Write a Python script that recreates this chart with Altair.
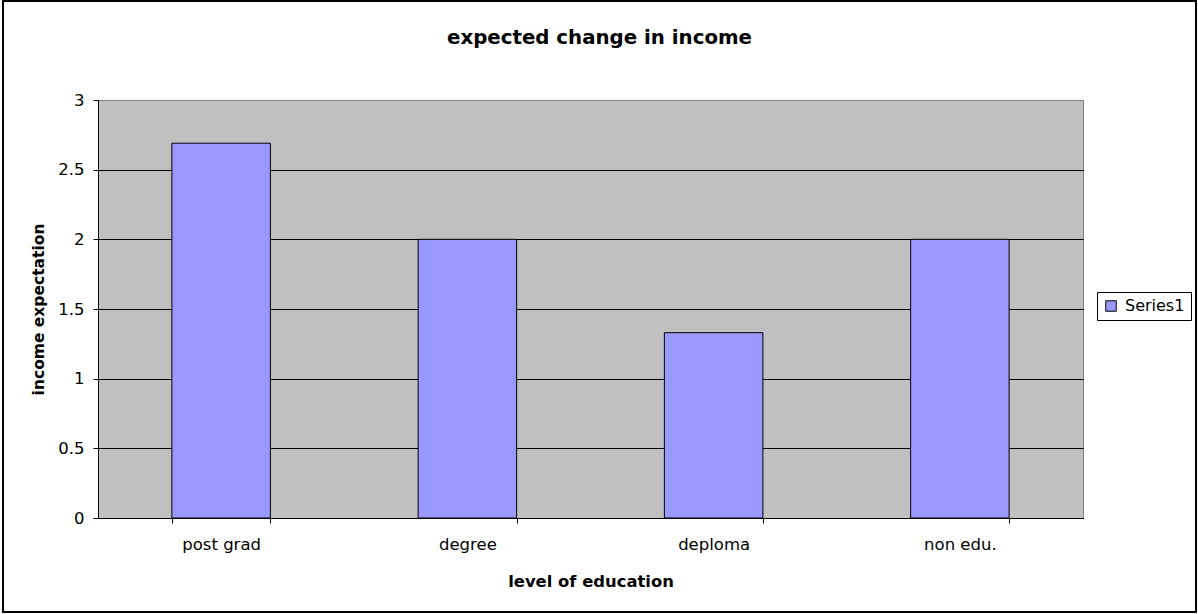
import altair as alt
import pandas as pd

categories = ["post grad", "degree", "deploma", "non edu."]
values = [2.69, 2.0, 1.33, 2.0]
series = ["Series1"] * 4
y_ticks = [0, 0.5, 1, 1.5, 2, 2.5, 3]

df = pd.DataFrame({"level": categories, "value": values, "series": series})

WIDE = "DejaVu Sans"
W, H = 985, 418

bars = alt.Chart(df).mark_bar(stroke="black", strokeWidth=1).encode(
    x=alt.X(
        "level:N",
        sort=categories,
        scale=alt.Scale(paddingInner=0.6, paddingOuter=0.3),
        axis=alt.Axis(
            title="level of education",
            labelAngle=0,
            tickBand="extent",
            tickSize=5,
            tickColor="black",
            domainColor="black",
            labelPadding=13,
            titlePadding=21,
            labelFontSize=16.5,
            titleFontSize=16.4,
            titleFontWeight="bold",
            labelColor="black",
            titleColor="black",
            labelFont=WIDE,
            titleFont=WIDE,
            grid=False,
        ),
    ),
    y=alt.Y(
        "value:Q",
        scale=alt.Scale(domain=[0, 3], nice=False),
        axis=alt.Axis(
            title="income expectation",
            values=y_ticks,
            format="~g",
            tickSize=5,
            tickColor="black",
            domainColor="black",
            labelPadding=9,
            titlePadding=11,
            labelFontSize=16.5,
            titleFontSize=15.5,
            titleFontWeight="bold",
            labelColor="black",
            titleColor="black",
            labelFont=WIDE,
            titleFont=WIDE,
            grid=True,
            gridColor={"condition": {"test": "datum.value >= 3", "value": "#808080"}, "value": "black"},
            gridWidth=1,
        ),
    ),
    color=alt.Color(
        "series:N",
        scale=alt.Scale(range=["#9999FF"]),
        legend=alt.Legend(
            title=None,
            orient="none",
            legendX=999,
            legendY=192,
            strokeColor="black",
            padding=6,
            symbolType="square",
            symbolSize=110,
            symbolStrokeColor="black",
            symbolStrokeWidth=1,
            labelFontSize=16,
            labelFont=WIDE,
            labelColor="black",
            labelOffset=6,
        ),
    ),
)

frame = alt.Chart(alt.Data(values=[{"a": 1}])).mark_rect(
    fill=None, stroke="black", strokeWidth=2
).encode(
    x=alt.value(-95), x2=alt.value(W + 113), y=alt.value(-99), y2=alt.value(H + 94)
)

chart = alt.layer(bars, frame).properties(
    width=W,
    height=H,
    autosize=alt.AutoSizeParams(type="none"),
    padding={"left": 98, "top": 100, "right": 115, "bottom": 96},
    background="white",
    title=alt.TitleParams(
        "expected change in income",
        fontSize=19.8,
        fontWeight="bold",
        font=WIDE,
        color="black",
        anchor="middle",
        frame="group",
        baseline="alphabetic",
        dx=9,
        offset=-64,
    ),
).configure_view(fill="#C0C0C0", stroke="#808080", strokeWidth=1)

chart.save("out.html", embed_options={"renderer": "svg", "actions": False})
